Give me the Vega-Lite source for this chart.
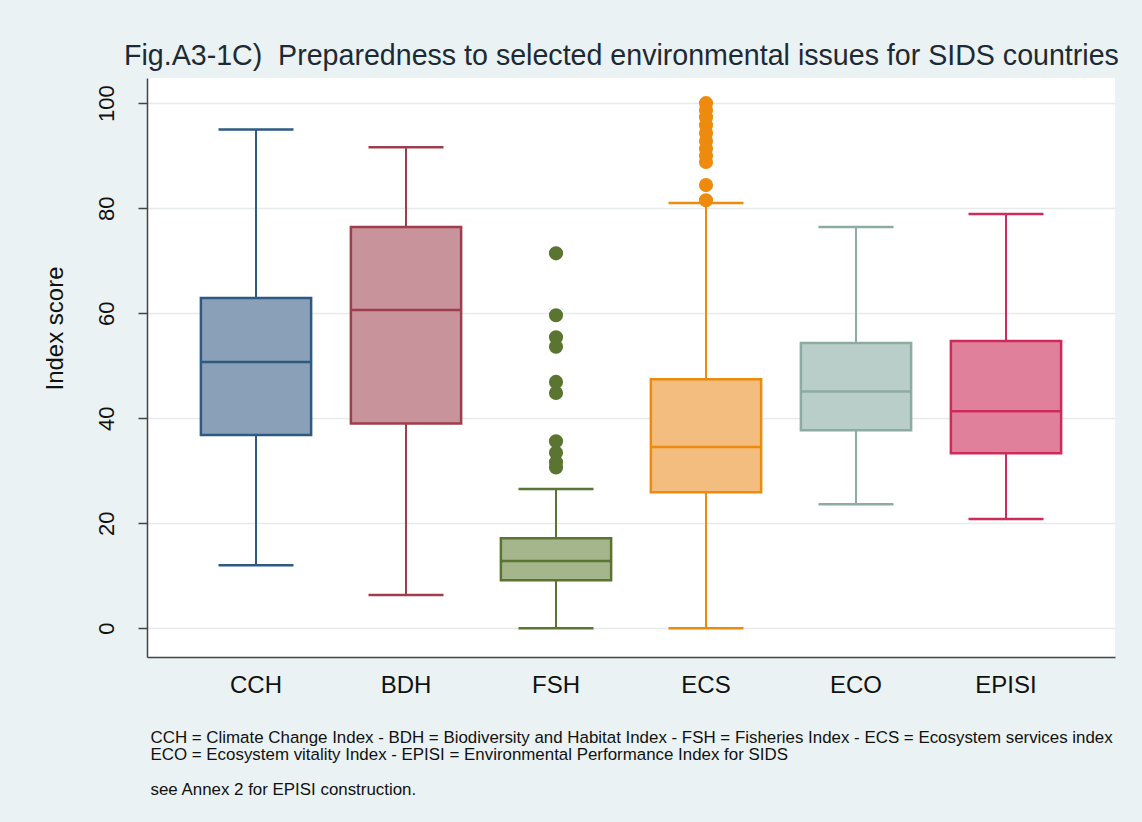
{
  "$schema": "https://vega.github.io/schema/vega-lite/v6.json",
  "autosize": {"type": "none"},
  "width": 968,
  "height": 579,
  "padding": {"left": 147, "top": 78, "right": 27, "bottom": 165},
  "background": "#eaf2f3",
  "view": {"fill": "white", "stroke": null},
  "title": {
    "text": "Fig.A3-1C)\u00a0 Preparedness to selected environmental issues for SIDS countries",
    "anchor": "start",
    "dx": 81,
    "offset": 7,
    "font": "Liberation Sans",
    "fontSize": 28.6,
    "fontWeight": "normal",
    "color": "#1e2a33"
  },
  "datasets": {
    "boxes": [
      {"idx": "CCH", "lo": 12.0, "q1": 36.8, "med": 50.7, "q3": 62.9, "hi": 95.0},
      {"idx": "BDH", "lo": 6.3, "q1": 39.0, "med": 60.6, "q3": 76.4, "hi": 91.6},
      {"idx": "FSH", "lo": 0.0, "q1": 9.1, "med": 12.8, "q3": 17.1, "hi": 26.5},
      {"idx": "ECS", "lo": 0.0, "q1": 25.9, "med": 34.5, "q3": 47.4, "hi": 81.0},
      {"idx": "ECO", "lo": 23.6, "q1": 37.7, "med": 45.1, "q3": 54.3, "hi": 76.4},
      {"idx": "EPISI", "lo": 20.8, "q1": 33.3, "med": 41.3, "q3": 54.7, "hi": 78.9}
    ],
    "outliers": [
      {"idx": "FSH", "v": 71.4},
      {"idx": "FSH", "v": 59.6},
      {"idx": "FSH", "v": 55.4},
      {"idx": "FSH", "v": 53.6},
      {"idx": "FSH", "v": 46.9},
      {"idx": "FSH", "v": 44.8},
      {"idx": "FSH", "v": 35.6},
      {"idx": "FSH", "v": 33.4},
      {"idx": "FSH", "v": 31.6},
      {"idx": "FSH", "v": 30.6},
      {"idx": "ECS", "v": 100.0},
      {"idx": "ECS", "v": 98.7},
      {"idx": "ECS", "v": 97.3},
      {"idx": "ECS", "v": 95.8},
      {"idx": "ECS", "v": 94.3},
      {"idx": "ECS", "v": 92.8},
      {"idx": "ECS", "v": 91.3},
      {"idx": "ECS", "v": 90.0},
      {"idx": "ECS", "v": 88.8},
      {"idx": "ECS", "v": 84.4},
      {"idx": "ECS", "v": 81.5}
    ]
  },
  "encoding": {
    "x": {
      "field": "idx",
      "type": "nominal",
      "sort": ["CCH", "BDH", "FSH", "ECS", "ECO", "EPISI"],
      "scale": {"type": "band", "paddingInner": 0, "paddingOuter": 0.2267},
      "axis": {
        "labelAngle": 0,
        "labelFont": "Liberation Sans",
        "labelFontSize": 24,
        "labelColor": "#111111",
        "labelPadding": 16,
        "ticks": false,
        "domainColor": "#444444",
        "domainWidth": 1.5,
        "grid": false,
        "title": [
          "CCH = Climate Change Index - BDH = Biodiversity and Habitat Index - FSH = Fisheries Index - ECS = Ecosystem services index",
          "ECO = Ecosystem vitality Index - EPISI = Environmental Performance Index for SIDS",
          "\u200b",
          "see Annex 2 for EPISI construction."
        ],
        "titleFont": "Liberation Sans",
        "titleFontSize": 16.9,
        "titleFontWeight": "normal",
        "titleColor": "#111111",
        "titleLineHeight": 17.5,
        "titleAnchor": "start",
        "titleAlign": "left",
        "titleBaseline": "top",
        "titleX": 3,
        "titleY": 72
      }
    }
  },
  "resolve": {"scale": {"y": "shared"}},
  "layer": [
    {
      "data": {"name": "boxes"},
      "mark": {"type": "rule", "strokeWidth": 2},
      "encoding": {
        "y": {
          "field": "lo",
          "type": "quantitative",
          "scale": {"domain": [-5.5, 104.8], "nice": false, "zero": false},
          "axis": {
            "values": [0, 20, 40, 60, 80, 100],
            "labelAngle": -90,
            "labelAlign": "center",
            "labelBaseline": "bottom",
            "labelFont": "Liberation Sans",
            "labelFontSize": 22,
            "labelColor": "#111111",
            "labelPadding": 20,
            "tickSize": 9,
            "tickColor": "#444444",
            "tickWidth": 1.5,
            "domainColor": "#444444",
            "domainWidth": 1.5,
            "grid": true,
            "gridColor": "#e6eaea",
            "gridWidth": 1.5,
            "title": "Index score",
            "titleFont": "Liberation Sans",
            "titleFontSize": 24,
            "titleFontWeight": "normal",
            "titleColor": "#111111",
            "titleAngle": -90,
            "titleAlign": "center",
            "titleBaseline": "middle",
            "titleX": -92,
            "titleY": 250
          }
        },
        "y2": {"field": "q1"},
        "color": {
          "field": "idx",
          "type": "nominal",
          "scale": {
            "domain": ["CCH", "BDH", "FSH", "ECS", "ECO", "EPISI"],
            "range": ["#2e5a82", "#9e3e4c", "#5a7530", "#ee8a0c", "#8eaaa5", "#cf2a5c"]
          },
          "legend": null
        }
      }
    },
    {
      "data": {"name": "boxes"},
      "mark": {"type": "rule", "strokeWidth": 2},
      "encoding": {
        "y": {"field": "q3", "type": "quantitative"},
        "y2": {"field": "hi"},
        "color": {"field": "idx", "type": "nominal", "legend": null}
      }
    },
    {
      "data": {"name": "boxes"},
      "mark": {"type": "bar", "width": {"band": 0.735}, "strokeWidth": 2.5},
      "encoding": {
        "y": {"field": "q1", "type": "quantitative"},
        "y2": {"field": "q3"},
        "fill": {
          "field": "idx",
          "type": "nominal",
          "scale": {
            "domain": ["CCH", "BDH", "FSH", "ECS", "ECO", "EPISI"],
            "range": ["#8aa0b9", "#c9939b", "#a5b68c", "#f3bd80", "#b9cdc9", "#e0809a"]
          },
          "legend": null
        },
        "stroke": {
          "field": "idx",
          "type": "nominal",
          "scale": {
            "domain": ["CCH", "BDH", "FSH", "ECS", "ECO", "EPISI"],
            "range": ["#2e5a82", "#9e3e4c", "#5a7530", "#ee8a0c", "#8eaaa5", "#cf2a5c"]
          },
          "legend": null
        }
      }
    },
    {
      "data": {"name": "boxes"},
      "mark": {"type": "tick", "size": 110, "thickness": 2.5, "opacity": 1},
      "encoding": {
        "y": {"field": "med", "type": "quantitative"},
        "color": {"field": "idx", "type": "nominal", "legend": null}
      }
    },
    {
      "data": {"name": "boxes"},
      "mark": {"type": "tick", "size": 75, "thickness": 2.5, "opacity": 1},
      "encoding": {
        "y": {"field": "lo", "type": "quantitative"},
        "color": {"field": "idx", "type": "nominal", "legend": null}
      }
    },
    {
      "data": {"name": "boxes"},
      "mark": {"type": "tick", "size": 75, "thickness": 2.5, "opacity": 1},
      "encoding": {
        "y": {"field": "hi", "type": "quantitative"},
        "color": {"field": "idx", "type": "nominal", "legend": null}
      }
    },
    {
      "data": {"name": "outliers"},
      "mark": {"type": "point", "filled": true, "size": 200, "opacity": 1},
      "encoding": {
        "y": {"field": "v", "type": "quantitative"},
        "color": {"field": "idx", "type": "nominal", "legend": null}
      }
    }
  ]
}
